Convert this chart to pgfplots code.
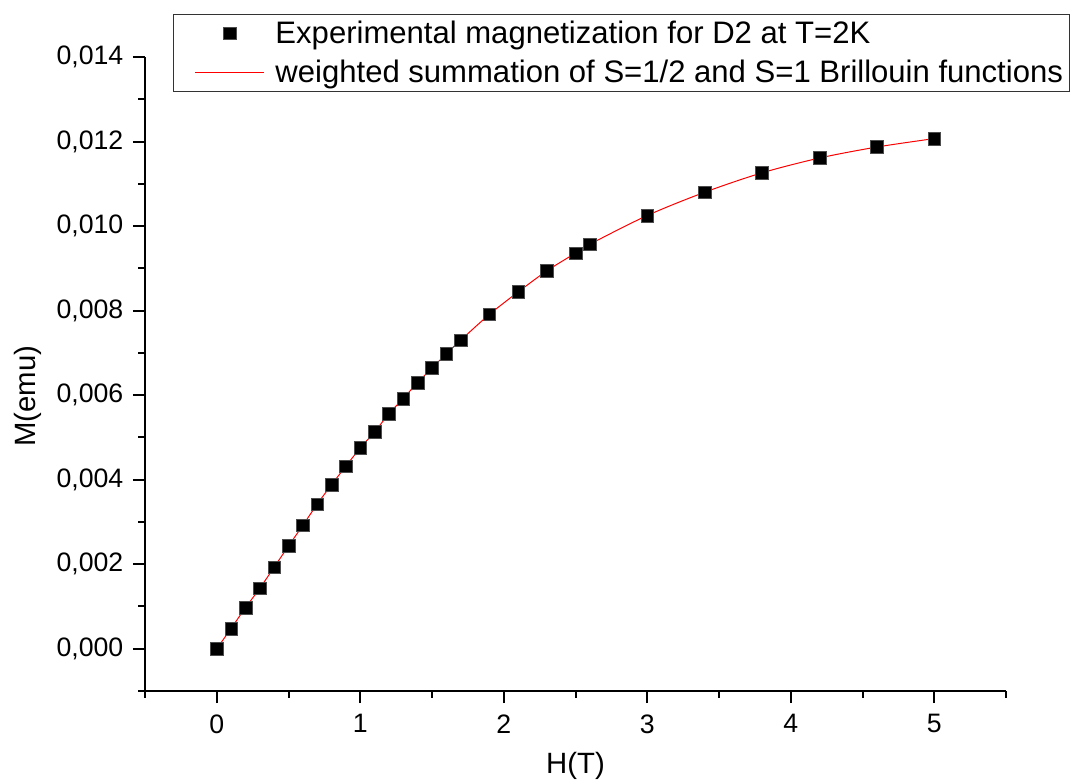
\documentclass[border=0pt]{standalone}
\usepackage{pgfplots}
\pgfplotsset{compat=1.18}
\usepackage{fontspec}
\setmainfont{Liberation Sans}
\pgfplotsset{
  legmark/.style={legend image code/.code={\path (-12.75pt,0pt) (58pt,0pt); \draw[##1, mark repeat=2, mark phase=2] plot coordinates {(0pt,0pt) (26pt,0pt) (52pt,0pt)};}},
  legline/.style={legend image code/.code={\path (-12.75pt,0pt) (58pt,0pt); \draw[##1, draw=red] (0pt,0pt) -- (52pt,0pt);}},
}
\pgfplotstableread{
x y
0 0
0.1 0.00048
0.2 0.00097
0.3 0.00143
0.4 0.00193
0.5 0.00243
0.6 0.00292
0.7 0.00342
0.8 0.00388
0.9 0.00432
1.0 0.00475
1.1 0.00513
1.2 0.00556
1.3 0.00592
1.4 0.00630
1.5 0.00664
1.6 0.00698
1.7 0.00730
1.9 0.00791
2.1 0.00844
2.3 0.00894
2.5 0.00936
2.6 0.00957
3.0 0.01025
3.4 0.01080
3.8 0.01126
4.2 0.01161
4.6 0.01187
5.0 0.01207
}\datatable
\begin{document}
\begin{tikzpicture}
\useasboundingbox (-108.75pt,-66pt) rectangle (696pt,518.25pt);
\begin{axis}[
  at={(0pt,0pt)}, anchor=south west,
  scale only axis,
  width=645.75pt, height=475.5pt,
  xmin=-0.5, xmax=5.5, ymin=-0.001, ymax=0.014,
  axis x line*=bottom, axis y line*=left,
  axis line style={line width=1.5pt, -},
  tick align=outside,
  major tick length=9pt, minor tick length=5pt,
  every tick/.style={black, line width=1.5pt},
  xtick={0,1,2,3,4,5},
  minor xtick={-0.5,0.5,1.5,2.5,3.5,4.5,5.5},
  ytick={0,0.002,0.004,0.006,0.008,0.010,0.012,0.014},
  minor ytick={-0.001,0.001,0.003,0.005,0.007,0.009,0.011,0.013},
  scaled y ticks=false,
  tick label style={font=\fontsize{20}{24}\selectfont, /pgf/number format/assume math mode=true},
  yticklabel style={xshift=-3.75pt, /pgf/number format/.cd, fixed, fixed zerofill, precision=3, use comma, assume math mode=true},
  xticklabel style={yshift=-5pt, /pgf/number format/.cd, fixed, precision=0, assume math mode=true},
  xlabel={H(T)}, ylabel={M(emu)},
  label style={font=\fontsize{22}{26}\selectfont},
  xlabel style={at={(axis description cs:0.5,-0.118)}, anchor=center},
  ylabel style={at={(axis description cs:-0.136,0.465)}, anchor=center},
  clip=false,
  legend style={at={(axis description cs:0.0325,1.068)}, anchor=north west,
    draw=black!80, line width=0.75pt, font=\fontsize{23.3}{27}\selectfont,
    inner xsep=3pt, inner ysep=3pt, row sep=7pt},
  legend cell align=left,
]
\addplot[only marks, mark=square*, mark size=4.75pt, mark options={fill=black, draw=black!70, line width=0.4pt}, legmark]
  table[x=x, y=y] {\datatable};
\addlegendentry{Experimental magnetization for D2 at T=2K}
\addplot[red, line width=0.75pt, smooth, no marks, legline]
  table[x=x, y=y] {\datatable};
\addlegendentry{weighted summation of S=1/2 and S=1 Brillouin functions}
\end{axis}
\end{tikzpicture}
\end{document}
